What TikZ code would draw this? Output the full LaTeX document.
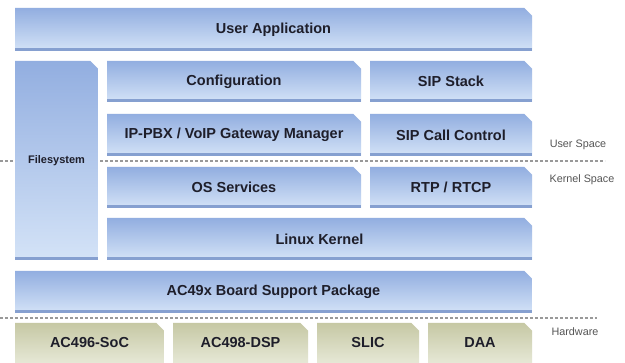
\documentclass[tikz,border=0pt]{standalone}
\usepackage{fontspec}
\setmainfont{Liberation Sans}
\usetikzlibrary{shapes.misc}
\definecolor{bluetop}{HTML}{92AEE0}
\definecolor{bluebot}{HTML}{D4E3F7}
\definecolor{blueedge}{HTML}{86A0D0}
\definecolor{hwtop}{HTML}{C6C8A4}
\definecolor{hwbot}{HTML}{E6E8D6}
\definecolor{labelgray}{HTML}{555555}
\definecolor{boxtext}{HTML}{1E1E2A}
\tikzset{
  layer/.style={chamfered rectangle, chamfered rectangle corners=north east,
    chamfered rectangle xsep=4pt, inner sep=0pt, draw=none,
    top color=bluetop, bottom color=bluebot,
    text=boxtext, font=\bfseries\fontsize{14.5}{17}\selectfont,
    path picture={\fill[blueedge] ([yshift=3pt]path picture bounding box.south west)
      rectangle (path picture bounding box.south east);}},
  hwbox/.style={layer, top color=hwtop, bottom color=hwbot,
    path picture={}},
  sidelabel/.style={text=labelgray, font=\fontsize{10.8}{13}\selectfont},
  divider/.style={gray!80, line width=1.4pt, dash pattern=on 3pt off 2pt}
}
\begin{document}
\begin{tikzpicture}[x=1pt,y=-1pt]
\useasboundingbox[fill=white] (0,0) rectangle (625,363);
% space dividers
\draw[divider] (0,161) -- (605,161);
\draw[divider] (0,318) -- (597,318);
% user space
\node[layer, minimum width=517pt, minimum height=43pt] (app) at (273.5,29.5) {User Application};
\node[layer, minimum width=83pt, minimum height=199pt, font=\bfseries\fontsize{11}{13}\selectfont] (fs) at (56.5,160.5) {Filesystem};
\node[layer, minimum width=254pt, minimum height=41pt] (conf) at (234,81.5) {Configuration};
\node[layer, minimum width=162pt, minimum height=41pt] (sip) at (451,81.5) {SIP Stack};
\node[layer, minimum width=254pt, minimum height=42pt] (gw) at (234,135) {IP-PBX / VoIP Gateway Manager};
\node[layer, minimum width=162pt, minimum height=42pt] (call) at (451,135) {SIP Call Control};
% kernel space
\node[layer, minimum width=254pt, minimum height=41pt] (os) at (234,187.5) {OS Services};
\node[layer, minimum width=162pt, minimum height=41pt] (rtp) at (451,187.5) {RTP / RTCP};
\node[layer, minimum width=425pt, minimum height=42pt] (kern) at (319.5,239) {Linux Kernel};
\node[layer, minimum width=517pt, minimum height=42pt] (bsp) at (273.5,292) {AC49x Board Support Package};
% hardware
\node[hwbox, minimum width=149pt, minimum height=40pt] (soc) at (89.5,343) {AC496-SoC};
\node[hwbox, minimum width=135pt, minimum height=40pt] (dsp) at (240.5,343) {AC498-DSP};
\node[hwbox, minimum width=102pt, minimum height=40pt] (slic) at (368,343) {SLIC};
\node[hwbox, minimum width=104pt, minimum height=40pt] (daa) at (480,343) {DAA};
% side labels
\node[sidelabel] (us) at (578,145) {User Space};
\node[sidelabel] (ks) at (582,180) {Kernel Space};
\node[sidelabel] (hw) at (575,332) {Hardware};
\end{tikzpicture}
\end{document}
